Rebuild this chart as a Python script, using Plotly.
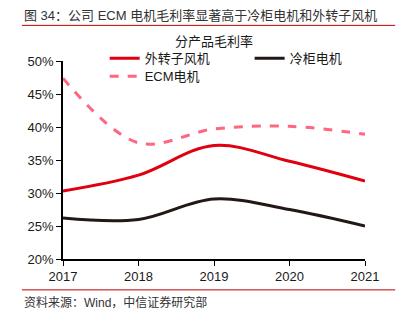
import plotly.graph_objects as go

years = ["2017", "2018", "2019", "2020", "2021"]
outer_rotor = [30.3, 32.7, 37.2, 34.8, 31.8]
freezer = [26.2, 26.0, 29.1, 27.5, 25.0]
ecm = [47.4, 37.6, 39.7, 40.1, 38.9]

FONT = "Liberation Sans, Arial, Noto Sans CJK SC, sans-serif"

fig = go.Figure()
fig.add_trace(go.Scatter(x=years, y=outer_rotor, name="外转子风机", mode="lines", legend="legend",
                         line=dict(color="#e0000f", width=3, shape="spline", smoothing=1)))
fig.add_trace(go.Scatter(x=years, y=freezer, name="冷柜电机", mode="lines", legend="legend2",
                         line=dict(color="#231815", width=3, shape="spline", smoothing=1)))
fig.add_trace(go.Scatter(x=years, y=ecm, name="ECM电机", mode="lines", legend="legend3",
                         line=dict(color="#ff6680", width=3, dash="dash", shape="spline", smoothing=1)))

legend_style = dict(orientation="h", xanchor="left", yanchor="top", bgcolor="rgba(0,0,0,0)",
                    font=dict(size=13))

fig.update_layout(
    width=404, height=324,
    margin=dict(l=63, r=39, t=61, b=65),
    paper_bgcolor="white", plot_bgcolor="white",
    font=dict(family=FONT, size=13, color="#1a1a1a"),
    showlegend=True,
    legend=dict(x=0.138, y=1.09, **legend_style),
    legend2=dict(x=0.618, y=1.09, **legend_style),
    legend3=dict(x=0.138, y=0.999, **legend_style),
    xaxis=dict(type="category", range=[0, 4], showline=True, linecolor="black", linewidth=1.5,
               ticks="outside", ticklen=5, tickcolor="black", showgrid=False, zeroline=False,
               tickfont=dict(size=13)),
    yaxis=dict(range=[20, 50], dtick=5, ticksuffix="%", showline=True, linecolor="black",
               linewidth=1.5, ticks="outside", ticklen=5, tickcolor="black", showgrid=False,
               zeroline=False, tickfont=dict(size=13)),
    annotations=[
        dict(text="图 34：公司 ECM 电机毛利率显著高于冷柜电机和外转子风机", xref="paper", yref="paper",
             x=-0.135, y=1.23, xanchor="left", yanchor="middle", showarrow=False,
             font=dict(size=13, color="#333333")),
        dict(text="分产品毛利率", xref="paper", yref="paper", x=0.5, y=1.1,
             xanchor="center", yanchor="middle", showarrow=False, font=dict(size=13)),
        dict(text="资料来源：Wind，中信证券研究部", xref="paper", yref="paper", x=-0.135, y=-0.22,
             xanchor="left", yanchor="middle", showarrow=False, font=dict(size=12, color="#333333")),
    ],
    shapes=[
        dict(type="line", xref="paper", yref="paper", x0=-0.136, x1=1.1, y0=1.18, y1=1.18,
             line=dict(color="#c00000", width=1)),
        dict(type="line", xref="paper", yref="paper", x0=-0.136, x1=1.1, y0=-0.156, y1=-0.156,
             line=dict(color="#c00000", width=1)),
    ],
)

fig.write_html("out.html")
